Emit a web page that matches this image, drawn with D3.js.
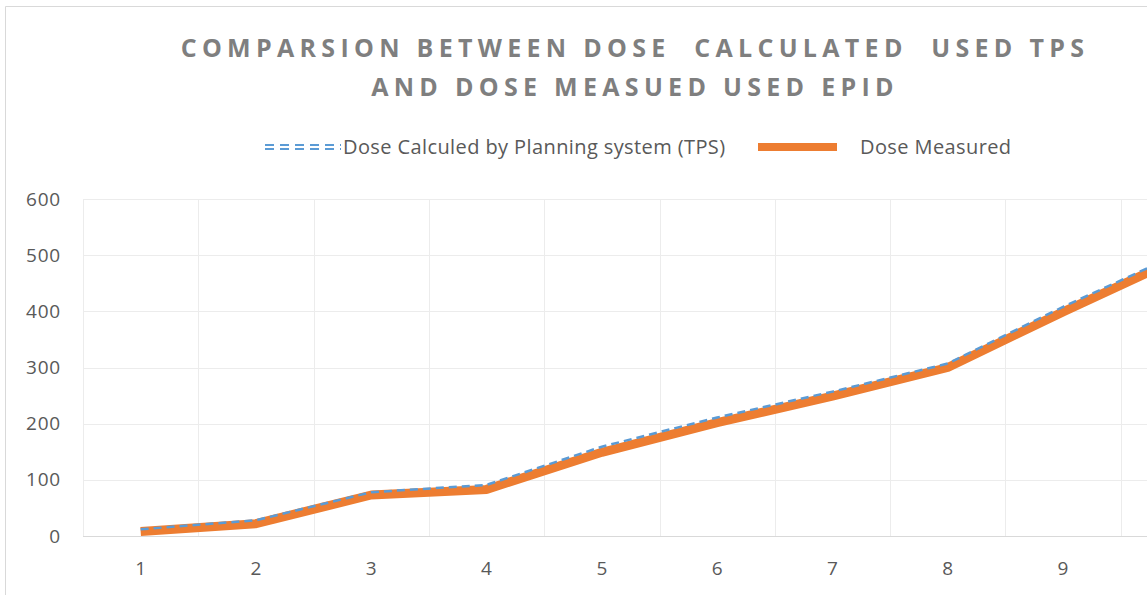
<!DOCTYPE html>
<html lang="en">
<head>
<meta charset="UTF-8">
<title>Dose comparison</title>
<script src="https://d3js.org/d3.v7.min.js"></script>
<style>
  body { margin: 0; background: #fff; }
  svg { display: block; font-family: "Open Sans", sans-serif; }
</style>
</head>
<body>
<svg id="chart" width="1147" height="595"></svg>
<script>
  const categories = ['1', '2', '3', '4', '5', '6', '7', '8', '9', '10'];
  const tpsDose = [12, 28, 78, 91, 159, 211, 257, 307, 408, 502];
  const measuredDose = [8, 22, 73, 83, 149, 202, 249, 300, 399, 494];
  const yTicks = [0, 100, 200, 300, 400, 500, 600];

  const W = 1147;
  const svg = d3.select('#chart');

  // chart border (cut at right/bottom like the screenshot)
  svg.append('path')
    .attr('d', 'M5.5,600 V6.5 H1150')
    .attr('fill', 'none')
    .attr('stroke', '#d9d9d9')
    .attr('stroke-width', 1);

  // plot area runs past the right edge of the picture
  const x = d3.scaleBand().domain(categories).range([83, 1236]);
  const y = d3.scaleLinear().domain([0, 600]).range([536, 199]);

  // gridlines
  svg.append('g')
    .selectAll('line')
    .data(yTicks.slice(1))
    .join('line')
    .attr('x1', 83).attr('x2', 1236)
    .attr('y1', d => Math.round(y(d)) + 0.5)
    .attr('y2', d => Math.round(y(d)) + 0.5)
    .attr('stroke', '#ececec');

  svg.append('g')
    .selectAll('line')
    .data(categories)
    .join('line')
    .attr('x1', d => Math.round(x(d)) + 0.5)
    .attr('x2', d => Math.round(x(d)) + 0.5)
    .attr('y1', 199).attr('y2', 536)
    .attr('stroke', '#ececec');

  // x axis baseline
  svg.append('line')
    .attr('x1', 83).attr('x2', 1236)
    .attr('y1', 536.5).attr('y2', 536.5)
    .attr('stroke', '#d9d9d9');

  // y tick labels
  svg.append('g')
    .selectAll('text')
    .data(yTicks)
    .join('text')
    .attr('x', 61)
    .attr('y', d => y(d))
    .attr('dy', '0.35em')
    .attr('text-anchor', 'end')
    .attr('font-size', 19)
    .attr('letter-spacing', 0.8)
    .attr('fill', '#595959')
    .text(d => d);

  const cx = (d, i) => x(categories[i]) + x.bandwidth() / 2;

  // x tick labels (only the ones that fall inside the picture)
  svg.append('g')
    .selectAll('text')
    .data(categories.filter(c => x(c) + x.bandwidth() / 2 < W))
    .join('text')
    .attr('x', d => x(d) + x.bandwidth() / 2)
    .attr('y', 568)
    .attr('dy', '0.35em')
    .attr('text-anchor', 'middle')
    .attr('font-size', 19)
    .attr('fill', '#595959')
    .text(d => d);

  const line = d3.line()
    .x((d, i) => cx(d, i))
    .y(d => y(d));

  // measured (thick orange)
  svg.append('path')
    .datum(measuredDose)
    .attr('d', line)
    .attr('fill', 'none')
    .attr('stroke', '#ed7d31')
    .attr('stroke-width', 9)
    .attr('stroke-linejoin', 'bevel');

  // TPS (dashed blue)
  svg.append('path')
    .datum(tpsDose)
    .attr('d', line)
    .attr('fill', 'none')
    .attr('stroke', '#5b9bd5')
    .attr('stroke-width', 2.5)
    .attr('stroke-dasharray', '8,5');

  // title
  const title = svg.append('text')
    .attr('text-anchor', 'middle')
    .attr('font-size', 25)
    .attr('font-weight', 'bold')
    .attr('fill', '#7f7f7f')
    .attr('letter-spacing', 5.3)
    .style('white-space', 'pre');
  title.append('tspan').attr('x', 635).attr('y', 57)
    .text('COMPARSION BETWEEN DOSE  CALCULATED  USED TPS');
  title.append('tspan').attr('x', 635).attr('y', 96)
    .text('AND DOSE MEASUED USED EPID');

  // legend
  const legend = svg.append('g');
  [145, 149].forEach(ly => {
    legend.append('line')
      .attr('x1', 265).attr('x2', 341)
      .attr('y1', ly).attr('y2', ly)
      .attr('stroke', '#5b9bd5')
      .attr('stroke-width', 2)
      .attr('stroke-dasharray', '9,6');
  });
  legend.append('text')
    .attr('x', 343).attr('y', 147)
    .attr('dy', '0.35em')
    .attr('font-size', 20)
    .attr('letter-spacing', 0.4)
    .attr('fill', '#595959')
    .text('Dose Calculed by Planning system (TPS)');

  legend.append('line')
    .attr('x1', 758).attr('x2', 837)
    .attr('y1', 147).attr('y2', 147)
    .attr('stroke', '#ed7d31')
    .attr('stroke-width', 8);
  legend.append('text')
    .attr('x', 860).attr('y', 147)
    .attr('dy', '0.35em')
    .attr('font-size', 20)
    .attr('letter-spacing', 0.4)
    .attr('fill', '#595959')
    .text('Dose Measured');
</script>
</body>
</html>
